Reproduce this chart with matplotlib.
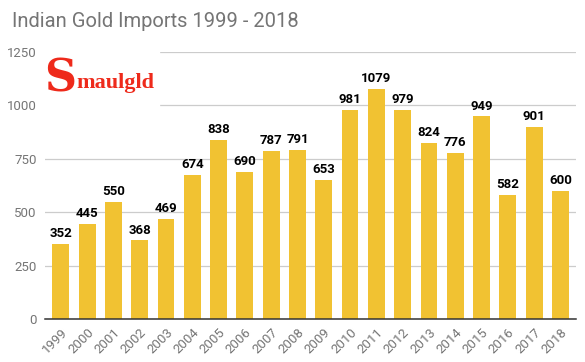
import matplotlib.pyplot as plt
import matplotlib.patches as mpatches

years = ['1999', '2000', '2001', '2002', '2003', '2004', '2005', '2006', '2007', '2008',
         '2009', '2010', '2011', '2012', '2013', '2014', '2015', '2016', '2017', '2018']
imports = [352, 445, 550, 368, 469, 674, 838, 690, 787, 791,
           653, 981, 1079, 979, 824, 776, 949, 582, 901, 600]

plt.rcParams['font.family'] = ['Roboto', 'DejaVu Sans']

fig = plt.figure(figsize=(5.85, 3.62), dpi=100)
ax = fig.add_axes([0.077, 0.119, 0.908, 0.737])

x = range(len(years))
ax.bar(x, imports, width=0.64, color='#F1C232', zorder=2)
for i, v in zip(x, imports):
    ax.text(i, v + 18, str(v), ha='center', va='bottom', fontsize=9.5,
            fontweight='bold', color='black', zorder=3)

ax.set_xlim(-0.6, len(years) - 0.4)
ax.set_ylim(0, 1250)
ax.set_yticks([0, 250, 500, 750, 1000, 1250])
ax.set_xticks(list(x))
ax.set_xticklabels(years, rotation=45, ha='right', rotation_mode='anchor')
ax.tick_params(axis='both', length=0, labelsize=9.5, labelcolor='#757575')
ax.tick_params(axis='x', pad=5)
ax.tick_params(axis='y', pad=6)
ax.grid(axis='y', color='#cccccc', linewidth=0.9, zorder=0)
for s in ['top', 'right', 'left']:
    ax.spines[s].set_visible(False)
ax.spines['bottom'].set_color('#333333')
ax.spines['bottom'].set_linewidth(1.1)
ax.spines['bottom'].set_zorder(4)

# logo box covering gridlines at top left
fig.patches.append(mpatches.Rectangle((0.077, 0.705), 0.195, 0.155,
                                      transform=fig.transFigure, color='white', zorder=5))
fig.text(0.075, 0.782, 'S', fontsize=32, fontweight='bold', family='DejaVu Serif',
         color='#ee2a1b', va='center', ha='left', zorder=6)
fig.text(0.13, 0.772, 'maulgld', fontsize=16, fontweight='bold', family='Liberation Serif',
         color='#ee2a1b', va='center', ha='left', zorder=6)

fig.text(0.02, 0.94, 'Indian Gold Imports 1999 - 2018', fontsize=14.5, color='#757575',
         va='center', ha='left')

plt.savefig('out.png', dpi=100)
